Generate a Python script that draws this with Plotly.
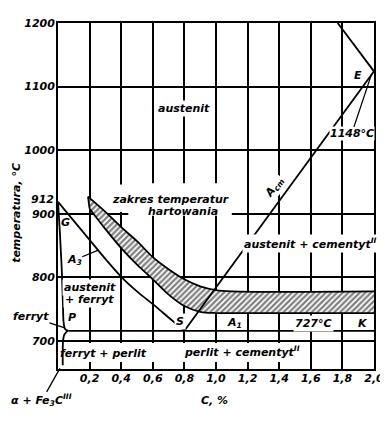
import plotly.graph_objects as go

# ---- data (C in %, temperature in °C) ----
A3_C = [0.0, 0.1, 0.2, 0.3, 0.4, 0.5, 0.6, 0.7, 0.8]
A3_T = [919, 889, 859, 829, 801, 778, 758, 737, 716]

GP_C = [0.0, 0.012, 0.023, 0.031, 0.036, 0.045, 0.065]
GP_T = [919, 870, 817, 760, 728, 719, 716]

PQ_C = [0.06, 0.04, 0.032, 0.030, 0.030]
PQ_T = [716, 710, 700, 680, 662]

A1_C = [0.065, 2.0]
A1_T = [716, 716]

ACM_C = [0.8, 2.0]
ACM_T = [716, 1124]

AE_C = [1.77, 2.0]
AE_T = [1200, 1124]

BAND_UP_C = [0.19, 0.3, 0.4, 0.5, 0.6, 0.7, 0.8, 0.9, 1.0, 1.1, 2.0]
BAND_UP_T = [927, 903, 879, 857, 832, 813, 797, 786, 780, 778, 778]
BAND_LO_C = [0.2, 0.3, 0.4, 0.5, 0.6, 0.7, 0.8, 0.9, 1.0, 1.1, 2.0]
BAND_LO_T = [908, 876, 846, 820, 797, 773, 755, 746, 744, 744, 744]

X_TICKS = [0.2, 0.4, 0.6, 0.8, 1.0, 1.2, 1.4, 1.6, 1.8, 2.0]
X_TICK_TEXT = ["0,2", "0,4", "0,6", "0,8", "1,0", "1,2", "1,4", "1,6", "1,8", "2,0"]
Y_TICKS = [700, 800, 900, 1000, 1100, 1200]
Y_TICK_TEXT = ["700", "800", "900", "1000", "1100", "1200"]
G_LABEL_T = 919  # position of the "912" label

FONT = dict(family="DejaVu Sans", size=11, color="black", style="italic", weight="bold")
LW = 1.8

fig = go.Figure()

# hatched hardening-temperature band
band_x = BAND_UP_C + BAND_LO_C[::-1]
band_y = BAND_UP_T + BAND_LO_T[::-1]
fig.add_trace(go.Scatter(
    x=band_x, y=band_y, mode="lines", fill="toself", fillcolor="white",
    fillpattern=dict(shape="/", fgcolor="black", bgcolor="white", size=4, solidity=0.55),
    line=dict(width=0), hoverinfo="skip", showlegend=False))

def line(xs, ys, shape="linear", w=LW):
    fig.add_trace(go.Scatter(x=xs, y=ys, mode="lines", line=dict(color="black", width=w, shape=shape),
                             hoverinfo="skip", showlegend=False))

line(BAND_UP_C, BAND_UP_T, "spline")
line(BAND_LO_C, BAND_LO_T, "spline")
line([BAND_UP_C[0], BAND_LO_C[0]], [BAND_UP_T[0], BAND_LO_T[0]])
line(A3_C, A3_T, "spline")
line(GP_C, GP_T, "spline")
line(PQ_C, PQ_T, "spline")
line(A1_C, A1_T)
line(ACM_C, ACM_T)
line(AE_C, AE_T)

# white masks where the grid is interrupted behind text
shapes = [
    dict(type="rect", layer="between", x0=0.445, x1=1.10, y0=897, y1=948, fillcolor="white", line=dict(width=0)),
    dict(type="rect", layer="between", x0=0.39, x1=0.445, y0=903, y1=946, fillcolor="white", line=dict(width=0)),
    dict(type="rect", layer="between", x0=0.035, x1=1.52, y0=667, y1=697, fillcolor="white", line=dict(width=0)),
]

ann = []
def txt(x, y, s, bg=None, **kw):
    d = dict(x=x, y=y, text=s, showarrow=False, font=FONT, xref="x", yref="y")
    if bg:
        d.update(bgcolor=bg, borderpad=1)
    d.update(kw)
    ann.append(d)

txt(0.80, 1066, "austenit", bg="white")
txt(0.715, 922, "zakres temperatur")
txt(0.79, 904, "hartowania")
txt(0.20, 784, "austenit", bg="white")
txt(0.20, 765, "+ ferryt", bg="white")
txt(1.595, 854, "austenit + cementyt<sup>II</sup>", bg="white")
txt(1.37, 942, "A<sub>cm</sub>", bg="white", textangle=-54)
txt(0.285, 681, "ferryt + perlit")
txt(1.165, 683, "perlit + cementyt<sup>II</sup>")
txt(0.045, 887, "G")
txt(0.087, 737, "P")
txt(0.772, 730, "S", bg="white")
txt(1.12, 728, "A<sub>1</sub>")
txt(1.616, 728, "727°C", bg="white")
txt(1.93, 728, "K")
txt(1.90, 1118, "E")

# labels with leader lines
def lead(x, y, s, ax, ay, **kw):
    d = dict(x=x, y=y, text=s, showarrow=True, arrowhead=0, arrowwidth=1.3, arrowcolor="black",
             ax=ax, ay=ay, font=FONT, xref="x", yref="y", bgcolor="white", borderpad=0)
    d.update(kw)
    ann.append(d)

lead(0.255, 843, "A<sub>3</sub>", -24, 10)
lead(0.038, 721, "ferryt", -33, -11)
lead(1.985, 1120, "1148°C", -20, 60)
lead(0.012, 657, "α + Fe<sub>3</sub>C<sup>III</sup>", -18, 32)

# "912" tick label, axis titles
ann.append(dict(x=0, y=G_LABEL_T, xref="paper", yref="y", text="912", showarrow=False,
                xanchor="right", yanchor="middle", xshift=-2, yshift=2, font=FONT))
ann.append(dict(x=-0.13, y=0.451, xref="paper", yref="paper", text="temperatura, °C",
                textangle=-90, showarrow=False, xanchor="center", yanchor="middle", font=FONT))
ann.append(dict(x=0.494, y=-0.09, xref="paper", yref="paper", text="C, %",
                showarrow=False, xanchor="center", yanchor="middle", font=FONT))

axis_common = dict(showgrid=True, gridcolor="black", gridwidth=1.5, showline=True, linecolor="black",
                   linewidth=LW, mirror=True, ticks="", zeroline=False, tickfont=FONT, automargin=False)

# the page body adds an 8 px offset; margins compensate for it
fig.update_layout(
    width=380, height=427, margin=dict(l=50, r=14, t=15, b=66, autoexpand=False),
    paper_bgcolor="white", plot_bgcolor="white", font=FONT, showlegend=False,
    xaxis=dict(range=[0, 2.0], tickvals=X_TICKS, ticktext=X_TICK_TEXT, ticklabelstandoff=-2, **axis_common),
    yaxis=dict(range=[656, 1200], tickvals=Y_TICKS, ticktext=Y_TICK_TEXT, ticklabelstandoff=-1, **axis_common),
    shapes=shapes, annotations=ann,
)

fig.write_html("out.html")
